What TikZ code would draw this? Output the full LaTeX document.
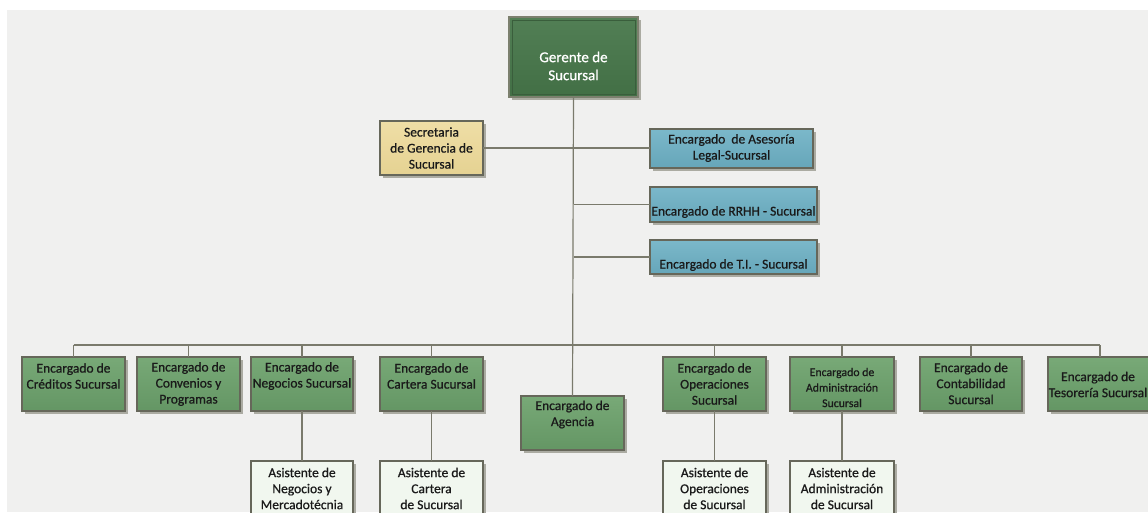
\documentclass[tikz,border=0pt]{standalone}
\usepackage{fontspec}
\setmainfont{Carlito}
\newfontfamily\heavy{Carlito}[FakeBold=0.7]
\usetikzlibrary{shadows}
\definecolor{bggray}{HTML}{F0F0EF}
\definecolor{gerT}{HTML}{527F55}
\definecolor{gerB}{HTML}{426F45}
\definecolor{grnT}{HTML}{78A977}
\definecolor{grnB}{HTML}{649664}
\definecolor{bluT}{HTML}{7BB8CA}
\definecolor{bluB}{HTML}{66A6B9}
\definecolor{tanT}{HTML}{EFDEA6}
\definecolor{tanB}{HTML}{E5D292}
\definecolor{asst}{HTML}{F1F7EF}
\definecolor{bordercol}{HTML}{66675A}
\definecolor{gerborder}{HTML}{7C806E}
\definecolor{gerinner}{HTML}{3A5E3C}
\definecolor{shadowcol}{HTML}{ABABA2}
\definecolor{linecol}{HTML}{7A7A6C}
\definecolor{txtcol}{HTML}{1A1A1A}
\tikzset{
  box/.style={draw=bordercol, line width=1.2pt, inner sep=0pt, outer sep=0pt,
    drop shadow={shadow xshift=3pt, shadow yshift=-3pt, fill=shadowcol, opacity=1}},
  txt/.style={align=center, inner sep=0pt, text=txtcol, font=\heavy\fontsize{13.5}{16}\selectfont},
  small/.style={font=\heavy\fontsize{11.8}{15.5}\selectfont},
  conn/.style={draw=linecol, line width=1.2pt},
  gfill/.style={top color=grnT, bottom color=grnB},
  bfill/.style={top color=bluT, bottom color=bluB},
  tfill/.style={top color=tanT, bottom color=tanB},
  gerfill/.style={top color=gerT, bottom color=gerB, draw=gerborder, line width=1.6pt}
}
\newcommand\mkbox[6]{\node[box,#6,minimum width={#3-#2},minimum height={#5-#4}] (#1) at ({(#2+#3)/2},{(#4+#5)/2}) {};}
\begin{document}
\begin{tikzpicture}[x=1pt,y=-1pt]
\useasboundingbox (0,0) rectangle (1148,512);
\clip (0,0) rectangle (1148,512);
\fill[white] (0,0) rectangle (1148,512);
\fill[bggray] (7,10) rectangle (1148,512);

% boxes
\mkbox{ger}{509}{638}{17}{97}{gerfill}
\draw[gerinner, line width=0.8pt] ([shift={(3,3)}]ger.north west) rectangle ([shift={(-3,-3)}]ger.south east);
\mkbox{sec}{380}{483}{121}{175}{tfill}
\mkbox{ase}{650}{813}{129}{168}{bfill}
\mkbox{rrhh}{650}{817}{187}{222}{bfill}
\mkbox{ti}{650}{817}{240}{274}{bfill}
\mkbox{cre}{22}{125}{357}{411}{gfill}
\mkbox{con}{137}{240}{357}{411}{gfill}
\mkbox{neg}{251}{353}{357}{411}{gfill}
\mkbox{car}{380}{483}{357}{411}{gfill}
\mkbox{age}{521}{624}{396}{450}{gfill}
\mkbox{ope}{663}{766}{357}{411}{gfill}
\mkbox{adm}{790}{894}{357}{411}{gfill}
\mkbox{cnt}{920}{1022}{357}{411}{gfill}
\mkbox{tes}{1048}{1152}{357}{411}{gfill}
\mkbox{aneg}{251}{353}{461}{530}{fill=asst}
\mkbox{acar}{380}{483}{461}{530}{fill=asst}
\mkbox{aope}{663}{766}{461}{530}{fill=asst}
\mkbox{aadm}{790}{894}{461}{530}{fill=asst}

% connectors
\coordinate (busL) at (73.5,345);
\coordinate (busR) at (1100,345);
\draw[conn] (ger.south) -- (age.north);
\draw[conn] (sec.east) -- (sec.east -| ase.west);
\draw[conn] (ger.south |- rrhh.west) -- (rrhh.west);
\draw[conn] (ger.south |- ti.west) -- (ti.west);
\draw[conn] (busL) -- (busR);
\foreach \b in {cre,con,neg,car,ope,adm,cnt}{\draw[conn] (\b.north) -- (\b.north |- busL);}
\draw[conn] (busR) -- (busR |- tes.north);
\draw[conn] (neg.south) -- (aneg.north);
\draw[conn] (car.south) -- (acar.north);
\draw[conn] (ope.south) -- (aope.north);
\draw[conn] (adm.south) -- (aadm.north);

% texts
\node[txt, text=white, font=\heavy\fontsize{15}{18}\selectfont] (gerTxt) at (573.5,66) {Gerente de\\Sucursal};
\node[txt] (secT) at (431.5,148) {Secretaria\\de Gerencia de\\Sucursal};
\node[txt] (aseT) at (731.5,148) {Encargado\ \ de Asesoría\\Legal-Sucursal};
\node[txt] (rrhhT) at (733.5,212) {Encargado de RRHH - Sucursal};
\node[txt] (tiT) at (733.5,265) {Encargado de T.I. - Sucursal};
\node[txt] (creT) at (73.5,376) {Encargado de\\Créditos Sucursal};
\node[txt] (conT) at (188.5,384) {Encargado de\\Convenios y\\Programas};
\node[txt] (negT) at (302,376) {Encargado de\\Negocios Sucursal};
\node[txt] (carT) at (431.5,376) {Encargado de\\Cartera Sucursal};
\node[txt] (ageT) at (572.5,414.5) {Encargado de\\Agencia};
\node[txt] (opeT) at (714.5,384) {Encargado de\\Operaciones\\Sucursal};
\node[txt, small] (admT) at (842,387.5) {Encargado de\\Administración\\Sucursal};
\node[txt] (cntT) at (971,383.5) {Encargado de\\Contabilidad\\Sucursal};
\node[txt] (tesT) at (1098,384.5) {Encargado de\\Tesorería Sucursal};
\node[txt] (anegT) at (302,488.5) {Asistente de\\Negocios y\\Mercadotécnia};
\node[txt] (acarT) at (431.5,488.5) {Asistente de\\Cartera\\de Sucursal};
\node[txt] (aopeT) at (714.5,488.5) {Asistente de\\Operaciones\\de Sucursal};
\node[txt] (aadmT) at (842,488.5) {Asistente de\\Administración\\de Sucursal};
\end{tikzpicture}
\end{document}
